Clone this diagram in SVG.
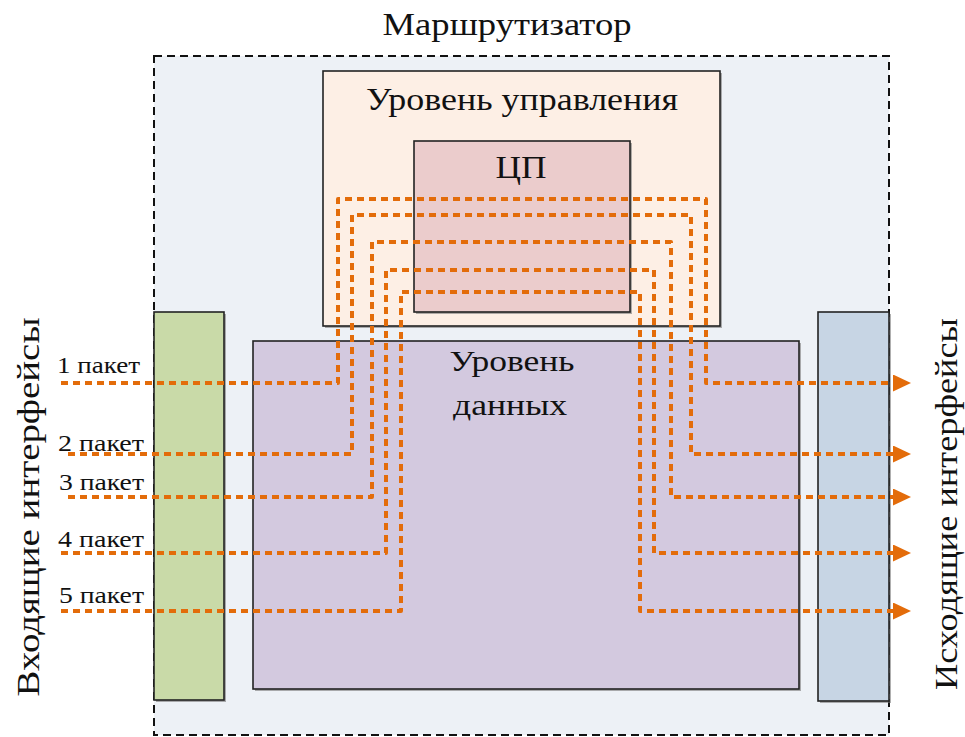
<svg xmlns="http://www.w3.org/2000/svg" width="965" height="737" viewBox="0 0 965 737">
  <style>
    .lbl { font-family: "Liberation Serif", "Times New Roman", serif; fill: #111111; }
    .box { stroke: #222222; stroke-width: 1.6; }
    .shadow { fill: #7a7a7a; opacity: 0.6; }
    .flow { fill: none; stroke: #E36C0A; stroke-width: 4; stroke-dasharray: 7 5; stroke-linejoin: round; }
  </style>
  <defs>
    <marker id="arrow" markerUnits="userSpaceOnUse" markerWidth="20" markerHeight="20" refX="0" refY="8.5" orient="auto">
      <path d="M0,0 L18,8.5 L0,17 Z" fill="#E36C0A"/>
    </marker>
  </defs>

  <rect width="965" height="737" fill="#ffffff"/>

  <!-- router frame -->
  <g id="router">
    <rect x="154" y="56" width="735" height="679" fill="#EDF1F6" stroke="#111111" stroke-width="2" stroke-dasharray="8 5"/>
    <text class="lbl" x="507" y="35" font-size="32" text-anchor="middle" textLength="249" lengthAdjust="spacingAndGlyphs">Маршрутизатор</text>
  </g>

  <!-- incoming interfaces -->
  <g id="in-ports">
    <rect class="shadow" x="156" y="314" width="70" height="388"/>
    <rect class="box" x="154" y="312" width="70" height="388" fill="#C9DAA8"/>
    <text class="lbl" transform="translate(39,507) rotate(-90)" font-size="32" text-anchor="middle" textLength="379" lengthAdjust="spacingAndGlyphs">Входящие интерфейсы</text>
  </g>

  <!-- outgoing interfaces -->
  <g id="out-ports">
    <rect class="shadow" x="820" y="314" width="71" height="389"/>
    <rect class="box" x="818" y="312" width="71" height="389" fill="#C7D5E4"/>
    <text class="lbl" transform="translate(957,504) rotate(-90)" font-size="32" text-anchor="middle" textLength="372" lengthAdjust="spacingAndGlyphs">Исходящие интерфейсы</text>
  </g>

  <!-- control plane -->
  <g id="control-plane">
    <rect class="shadow" x="325" y="73" width="397" height="255"/>
    <rect class="box" x="323" y="71" width="397" height="255" fill="#FDEFE5"/>
    <text class="lbl" x="522" y="110" font-size="32" text-anchor="middle" textLength="312" lengthAdjust="spacingAndGlyphs">Уровень управления</text>
  </g>

  <!-- CPU -->
  <g id="cpu">
    <rect class="shadow" x="416" y="143" width="216" height="171"/>
    <rect class="box" x="414" y="141" width="216" height="171" fill="#EBCCCC"/>
    <text class="lbl" x="521" y="178" font-size="32" text-anchor="middle" textLength="51" lengthAdjust="spacingAndGlyphs">ЦП</text>
  </g>

  <!-- data plane -->
  <g id="data-plane">
    <rect class="shadow" x="255" y="343" width="546" height="348"/>
    <rect class="box" x="253" y="341" width="546" height="348" fill="#D3C9DF"/>
    <text class="lbl" x="512" y="371" font-size="30" text-anchor="middle" textLength="125" lengthAdjust="spacingAndGlyphs">Уровень</text>
    <text class="lbl" x="510" y="415" font-size="30" text-anchor="middle" textLength="114" lengthAdjust="spacingAndGlyphs">данных</text>
  </g>

  <!-- packet routes through the CPU -->
  <g id="connectors">
    <path class="flow" marker-end="url(#arrow)" d="M61,383 H338 V199 H706 V383 H893"/>
    <path class="flow" marker-end="url(#arrow)" d="M68,454 H352 V215 H691 V454 H893"/>
    <path class="flow" marker-end="url(#arrow)" d="M68,497 H372 V242 H671 V497 H893"/>
    <path class="flow" marker-end="url(#arrow)" d="M61,553 H386 V270 H654 V553 H893"/>
    <path class="flow" marker-end="url(#arrow)" d="M61,611 H401 V292 H640 V611 H893"/>
  </g>

  <!-- packet labels -->
  <g id="packet-labels" class="lbl" font-size="24">
    <text x="57" y="373" textLength="83" lengthAdjust="spacingAndGlyphs">1 пакет</text>
    <text x="58" y="451" textLength="86" lengthAdjust="spacingAndGlyphs">2 пакет</text>
    <text x="59" y="490" textLength="85" lengthAdjust="spacingAndGlyphs">3 пакет</text>
    <text x="58" y="547" textLength="86" lengthAdjust="spacingAndGlyphs">4 пакет</text>
    <text x="59" y="603" textLength="85" lengthAdjust="spacingAndGlyphs">5 пакет</text>
  </g>
</svg>
